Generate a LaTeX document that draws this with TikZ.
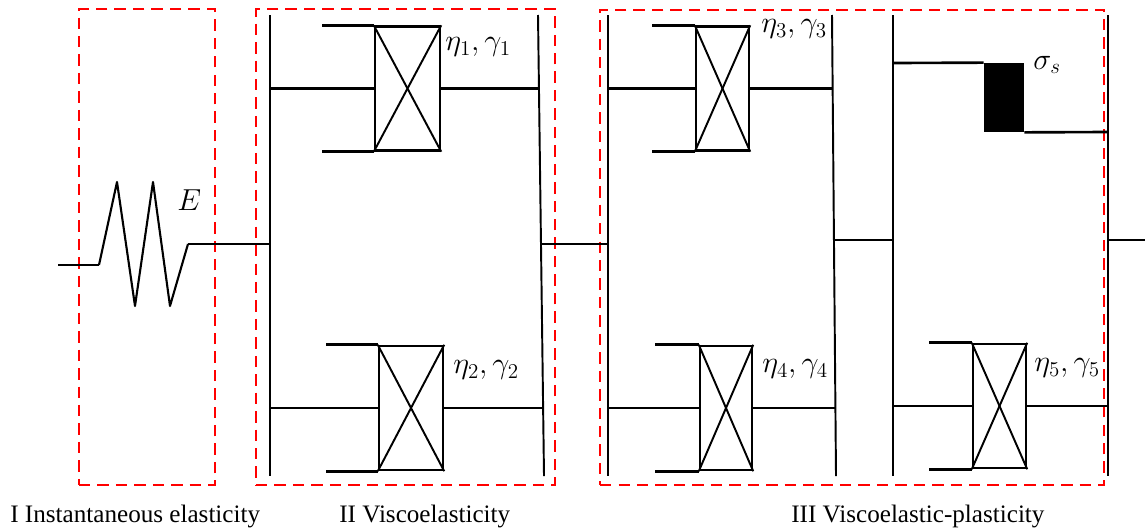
\documentclass[tikz,border=0pt]{standalone}
\usepackage{amsmath, amssymb}
\usepackage{fontspec}
\setmainfont{Liberation Serif}
\usepackage{xcolor}
\usetikzlibrary{calc}
\definecolor{themered}{RGB}{255, 0, 0}

\begin{document}
\begin{tikzpicture}[x=0.02cm, y=-0.02cm,
    wire/.style={line width=1.5pt, line cap=butt, line join=round},
    rail/.style={line width=1.6pt},
    zone/.style={draw=themered, line width=1.1pt, dash pattern=on 6.5pt off 4pt, minimum height=9.52cm, inner sep=0pt},
    dashpot/.style={draw, line width=1.4pt, minimum height=2.48cm, inner sep=0pt},
    tag/.style={inner sep=0pt, font=\fontsize{17.5}{20}\selectfont},
    caption/.style={inner sep=0pt, font=\fontsize{14.3}{17}\selectfont}]
    \useasboundingbox (0,0) rectangle (1145,531);
    % dashed zones
    \node[zone, minimum width=2.72cm] (Z1) at (147,247) {};
    \node[zone, minimum width=5.98cm] (Z2) at (405.5,247) {};
    \node[zone, minimum width=10.08cm] (Z3) at (852,247.5) {};
    % rails
    \coordinate (Atop) at (270,15);   \coordinate (Abot) at (270,476);
    \coordinate (Btop) at (538,15);   \coordinate (Bbot) at (544,476);
    \coordinate (Ctop) at (608,15);   \coordinate (Cbot) at (608,476);
    \coordinate (Dtop) at (832,15);   \coordinate (Dbot) at (836,476);
    \coordinate (Etop) at (893,15);   \coordinate (Ebot) at (893,476);
    \coordinate (Ftop) at (1108,15);  \coordinate (Fbot) at (1108,476);
    \draw[rail] (Atop) -- (Abot);
    \draw[rail, line width=1.1pt] (Btop) -- (Bbot);
    \draw[rail] (Ctop) -- (Cbot);
    \draw[rail, line width=1.1pt] (Dtop) -- (Dbot);
    \draw[rail] (Etop) -- (Ebot);
    \draw[rail] (Ftop) -- (Fbot);
    % dashpots
    \node[dashpot, minimum width=1.30cm] (D1) at (407.5,88.5) {};
    \node[dashpot, minimum width=1.28cm] (D2) at (411,408) {};
    \node[dashpot, minimum width=1.06cm] (D3) at (722.5,88.5) {};
    \node[dashpot, minimum width=1.04cm] (D4) at (726,408) {};
    \node[dashpot, minimum width=1.06cm] (D5) at (999.5,406) {};
    \foreach \d/\l in {D1/52, D2/52, D3/43, D4/44, D5/43} {
        \draw[line width=1.1pt] (\d.north west) -- (\d.south east);
        \draw[line width=1.1pt] (\d.south west) -- (\d.north east);
        \draw[wire] (\d.north west) -- ++(-\l,0);
        \draw[wire] (\d.south west) -- ++(-\l,0);
    }
    % wires to the rails
    \coordinate (A1) at (270,88.5);   \coordinate (B1) at (540,88.5);
    \coordinate (A2) at (270,408);  \coordinate (B2) at (543,408);
    \coordinate (C3) at (608,88.5);   \coordinate (D3r) at (832,88.5);
    \coordinate (C4) at (608,408);  \coordinate (D4r) at (835,408);
    \coordinate (E5) at (893,406);  \coordinate (F5) at (1108,406);
    \draw[wire] (A1) -- (D1.west);  \draw[wire] (D1.east) -- (B1);
    \draw[wire] (A2) -- (D2.west);  \draw[wire] (D2.east) -- (B2);
    \draw[wire] (C3) -- (D3.west);  \draw[wire] (D3.east) -- (D3r);
    \draw[wire] (C4) -- (D4.west);  \draw[wire] (D4.east) -- (D4r);
    \draw[wire] (E5) -- (D5.west);  \draw[wire] (D5.east) -- (F5);
    % slider
    \node[fill=black, minimum width=0.80cm, minimum height=1.38cm, inner sep=0pt] (S) at (1004,97.5) {};
    \coordinate (E6) at (893,63);   \coordinate (F6) at (1108,132);
    \draw[wire] (E6) -- (S.north west);
    \draw[wire] (S.south east) -- (F6);
    % spring and links between the groups
    \coordinate (In) at (58,265);
    \coordinate (Out) at (1145,240);
    \draw[wire] (In) -- (99,265);
    \draw[wire, line width=1.2pt] (99,265) -- (117,182) -- (135,306) -- (153,182) -- (170,306) -- (188,244);
    \draw[wire] (188,244) -- (270,244);
    \draw[wire] (541,244) -- (608,244);
    \draw[wire] (834,240) -- (893,240);
    \draw[wire] (1108,240) -- (Out);
    % labels
    \node[tag, anchor=west] (L1) at (445,47) {$\eta_1,\gamma_1$};
    \node[tag, anchor=west] (L2) at (453,370) {$\eta_2,\gamma_2$};
    \node[tag, anchor=west] (L3) at (761,29) {$\eta_3,\gamma_3$};
    \node[tag, anchor=west] (L4) at (762,369) {$\eta_4,\gamma_4$};
    \node[tag, anchor=west] (L5) at (1034,368) {$\eta_5,\gamma_5$};
    \node[tag, anchor=west] (LS) at (1033,65) {$\sigma_s$};
    \node[tag, anchor=west] (LE) at (177,200) {$E$};
    \node[caption, anchor=west] (C1) at (10,516) {I Instantaneous elasticity};
    \node[caption, anchor=west] (C2) at (339,516) {II Viscoelasticity};
    \node[caption, anchor=west] (C3t) at (791,516) {III Viscoelastic-plasticity};
\end{tikzpicture}
\end{document}
